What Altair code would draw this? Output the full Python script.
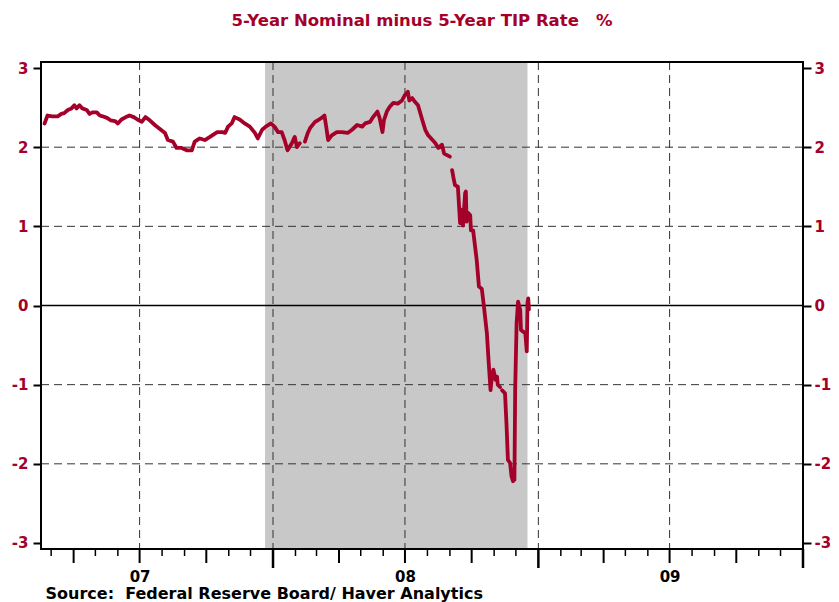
import altair as alt
import pandas as pd

# ---- data ----
dates = [
    "2007-02-20", "2007-02-24", "2007-03-03", "2007-03-10", "2007-03-15", "2007-03-19",
    "2007-03-24", "2007-03-29", "2007-04-02", "2007-04-05", "2007-04-09", "2007-04-13",
    "2007-04-19", "2007-04-23", "2007-04-27", "2007-05-03", "2007-05-07", "2007-05-11",
    "2007-05-17", "2007-05-22", "2007-05-28", "2007-06-01", "2007-06-06", "2007-06-12",
    "2007-06-17", "2007-06-23", "2007-06-28", "2007-07-04", "2007-07-09", "2007-07-15",
    "2007-07-22", "2007-07-29", "2007-08-05", "2007-08-09",
    "2007-08-16", "2007-08-21", "2007-08-28", "2007-09-04", "2007-09-11", "2007-09-15",
    "2007-09-22", "2007-09-29", "2007-10-06", "2007-10-16", "2007-10-23", "2007-10-27",
    "2007-10-31", "2007-11-05", "2007-11-09", "2007-11-16", "2007-11-23", "2007-11-30",
    "2007-12-07", "2007-12-11", "2007-12-17", "2007-12-22", "2007-12-29", "2008-01-03",
    "2008-01-08", "2008-01-13", "2008-01-17", "2008-01-21", "2008-01-27", "2008-01-31",
    "2008-02-03", "2008-02-07", "2008-02-10",
    "2008-02-14", "2008-02-18", "2008-02-21", "2008-02-28", "2008-03-03", "2008-03-08",
    "2008-03-12", "2008-03-15", "2008-03-17", "2008-03-22", "2008-03-29", "2008-04-05",
    "2008-04-13", "2008-04-19", "2008-04-26", "2008-05-03", "2008-05-07", "2008-05-14",
    "2008-05-18", "2008-05-24", "2008-05-27", "2008-05-31", "2008-06-02", "2008-06-06",
    "2008-06-10", "2008-06-15", "2008-06-21", "2008-06-27", "2008-07-01", "2008-07-05",
    "2008-07-07", "2008-07-11", "2008-07-15", "2008-07-19", "2008-07-25", "2008-07-29",
    "2008-08-02", "2008-08-08", "2008-08-12", "2008-08-16", "2008-08-21", "2008-08-24",
    "2008-08-28", "2008-09-01", "2008-09-02",
    "2008-09-04", "2008-09-06", "2008-09-08", "2008-09-12", "2008-09-15", "2008-09-17",
    "2008-09-19", "2008-09-22", "2008-09-23", "2008-09-24", "2008-09-26", "2008-09-29",
    "2008-09-30", "2008-10-03", "2008-10-08", "2008-10-11", "2008-10-15", "2008-10-18",
    "2008-10-22", "2008-10-24", "2008-10-27", "2008-10-29", "2008-10-31", "2008-11-03",
    "2008-11-05", "2008-11-06", "2008-11-09", "2008-11-10",
    "2008-11-12", "2008-11-16", "2008-11-18", "2008-11-20", "2008-11-23", "2008-11-25",
    "2008-11-27", "2008-11-29", "2008-11-30", "2008-12-02", "2008-12-04", "2008-12-07",
    "2008-12-08", "2008-12-11", "2008-12-14", "2008-12-16", "2008-12-17", "2008-12-18",
    "2008-12-19",
]
values = [
    2.30, 2.40, 2.39, 2.39, 2.42, 2.43,
    2.47, 2.49, 2.53, 2.49, 2.53, 2.49,
    2.47, 2.42, 2.44, 2.44, 2.40, 2.39,
    2.37, 2.34, 2.33, 2.30, 2.35, 2.38,
    2.40, 2.38, 2.35, 2.32, 2.38, 2.34,
    2.28, 2.23, 2.18, 2.09,
    2.07, 1.99, 1.99, 1.96, 1.96, 2.07,
    2.11, 2.09, 2.13, 2.19, 2.19, 2.18,
    2.26, 2.30, 2.38, 2.35, 2.30, 2.26,
    2.18, 2.11, 2.22, 2.26, 2.30, 2.26,
    2.19, 2.19, 2.09, 1.96, 2.05, 2.13,
    2.00, 2.05, None,
    2.07, 2.18, 2.24, 2.32, 2.34, 2.37,
    2.40, 2.22, 2.09, 2.15, 2.19, 2.19,
    2.18, 2.22, 2.28, 2.26, 2.30, 2.32,
    2.38, 2.45, 2.37, 2.19, 2.34, 2.45,
    2.51, 2.56, 2.55, 2.59, 2.66, 2.70,
    2.59, 2.62, 2.57, 2.53, 2.34, 2.22,
    2.15, 2.09, 2.05, 1.99, 2.03, 1.92,
    1.90, 1.88, None,
    1.71, 1.61, 1.52, 1.50, 1.04, 1.21,
    1.01, 1.42, 1.44, 1.06, 1.17, 1.14,
    0.95, 0.95, 0.57, 0.24, 0.21, -0.02,
    -0.35, -0.65, -1.07, -0.90, -0.81, -0.94,
    -0.90, -1.00, -1.03, None,
    -1.07, -1.11, -1.49, -1.95, -1.99, -2.16,
    -2.22, -2.20, -1.07, -0.22, 0.05, -0.06,
    -0.31, -0.33, -0.35, -0.58, 0.03, 0.09,
    -0.05,
]

recession_start = ["2007-12-21"]
recession_end = ["2008-12-17"]

y_ticks = [-3, -2, -1, 0, 1, 2, 3]
y_grid = [-2, -1, 1, 2]
x_grid = ["2007-07-01", "2008-01-01", "2008-07-01", "2009-01-01", "2009-07-01"]
year_label_dates = ["2007-07-01", "2008-07-01", "2009-07-01"]

title_text = "5-Year Nominal minus 5-Year TIP Rate\u00a0\u00a0\u00a0%"
source_text = "Source:\u00a0\u00a0Federal Reserve Board/ Haver Analytics"

# ---- build tables ----
seg, segs = 0, []
for v in values:
    if v is None:
        seg += 1
    segs.append(seg)
df = pd.DataFrame({"date": dates, "value": values, "seg": segs}).dropna()

month_ticks = pd.date_range("2007-03-01", "2010-01-01", freq="MS")
ticks_df = pd.DataFrame({"date": month_ticks.strftime("%Y-%m-%d")})
ticks_df["kind"] = ["long" if m == 1 else ("mid" if m in (4, 7, 10) else "short")
                    for m in month_ticks.month]

shade_df = pd.DataFrame({"start": recession_start, "end": recession_end})
ygrid_df = pd.DataFrame({"v": y_grid})
xgrid_df = pd.DataFrame({"date": x_grid})
zero_df = pd.DataFrame({"v": [0]})
yt_df = pd.DataFrame({"v": y_ticks})
frame_df = pd.DataFrame({"f": [1]})

W, H = 762, 487
RED = "#A5002A"
FONT = "DejaVu Sans"

x_scale = alt.Scale(domain=[alt.DateTime(year=2007, month=2, date=15),
                            alt.DateTime(year=2010, month=1, date=1)])
y_scale = alt.Scale(domain=[-3.076, 3.076], nice=False, zero=False)

x_axis = alt.Axis(
    values=[alt.DateTime(year=int(d[:4]), month=7, date=1) for d in year_label_dates],
    format="%y", tickSize=0, domain=False, grid=False,
    labelFont=FONT, labelFontSize=15, labelFontWeight="bold", labelColor="black",
    labelPadding=20, labelBaseline="top",
    title=source_text, titleFont=FONT, titleFontSize=16, titleFontWeight="bold",
    titleColor="black", titleAnchor="start", titleAlign="left",
    titleX=4, titleY=49, titleBaseline="alphabetic",
)

def y_axis(orient, pad):
    return alt.Axis(
        orient=orient, values=y_ticks, tickSize=8, tickWidth=2,
        tickColor="black", domain=False, grid=False, labelPadding=pad,
        labelExpr="datum.value < 0 ? '-' + abs(datum.value) : '' + datum.value",
        labelFont=FONT, labelFontSize=15, labelFontWeight="bold", labelColor=RED,
        title=None,
    )

shade = alt.Chart(shade_df).mark_rect(color="#C8C8C8").encode(
    x=alt.X("start:T", scale=x_scale, axis=x_axis),
    x2="end:T",
)

vgrid = alt.Chart(xgrid_df).mark_rule(color="#333333", strokeWidth=1, strokeDash=[8, 5]).encode(
    x=alt.X("date:T", scale=x_scale),
)

hgrid = alt.Chart(ygrid_df).mark_rule(color="#333333", strokeWidth=1, strokeDash=[8, 5]).encode(
    y=alt.Y("v:Q", scale=y_scale, axis=y_axis("left", 5)),
)

zero = alt.Chart(zero_df).mark_rule(color="black", strokeWidth=1.5).encode(
    y=alt.Y("v:Q", scale=y_scale, axis=None),
)

line = alt.Chart(df).mark_line(color=RED, strokeWidth=3.8, strokeJoin="round", strokeCap="round").encode(
    x=alt.X("date:T", scale=x_scale),
    y=alt.Y("value:Q", scale=y_scale, axis=None),
    detail="seg:N",
)

right_axis = alt.Chart(yt_df).mark_point(opacity=0).encode(
    y=alt.Y("v:Q", scale=y_scale, axis=y_axis("right", 3)),
)

frame = alt.Chart(frame_df).mark_rect(fill=None, stroke="black", strokeWidth=2).encode(
    x=alt.value(0), x2=alt.value(W), y=alt.value(0), y2=alt.value(H),
)

def tick_layer(kind, length, width):
    return alt.Chart(ticks_df).transform_filter(alt.datum.kind == kind).mark_rule(
        color="black", strokeWidth=width, clip=False
    ).encode(
        x=alt.X("date:T", scale=x_scale),
        y=alt.value(H),
        y2=alt.value(H + length),
    )

chart = alt.layer(
    shade, vgrid, hgrid, zero, line, frame,
    tick_layer("short", 7, 1.5), tick_layer("mid", 14, 2), tick_layer("long", 19, 2.5),
    right_axis,
).resolve_axis(y="independent").properties(
    width=W, height=H,
    title=alt.TitleParams(title_text, font=FONT, fontSize=16.5, fontWeight="bold",
                          color=RED, anchor="middle", offset=32),
    autosize=alt.AutoSizeParams(type="none"),
    padding={"left": 33, "top": 54, "right": 28, "bottom": 54},
).configure_view(stroke=None).configure(background="white")

chart.save("out.html", embed_options={"renderer": "svg", "actions": False})
